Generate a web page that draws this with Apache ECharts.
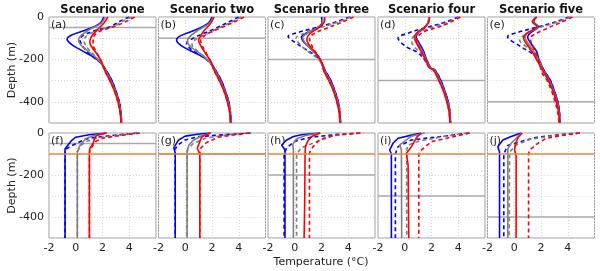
<!DOCTYPE html>
<html><head><meta charset="utf-8">
<script src="https://cdn.jsdelivr.net/npm/echarts@6/dist/echarts.min.js"></script>
<style>html,body{margin:0;padding:0;background:#fff}#c{width:600px;height:271px}</style>
</head><body><div id="c"></div>
<script>
// ---------- data ----------
const titles = ['Scenario one','Scenario two','Scenario three','Scenario four','Scenario five'];
const panelLabels = ['(a)','(b)','(c)','(d)','(e)','(f)','(g)','(h)','(i)','(j)'];
const scenarioDepths = [-50,-100,-200,-300,-400];
const referenceDepth = -100;
const xTickLabels = [-2,0,2,4];
const yTickLabels = [0,-200,-400];

// deep part of top-row profiles [temperature, depth]
const deepBlue = [[2.25,-250],[2.7,-300],[3.0,-350],[3.25,-400],[3.38,-450],[3.42,-500]];
const deepGrey = [[2.2,-250],[2.62,-300],[2.95,-350],[3.2,-400],[3.35,-450],[3.4,-500]];
const deepRed  = [[2.15,-250],[2.55,-300],[2.9,-350],[3.15,-400],[3.32,-450],[3.38,-500]];

// (a)
const a_bs = [[2.1,0],[1.8,-30],[0.8,-60],[-0.3,-85],[-0.65,-105],[-0.3,-130],[0.5,-160],[1.3,-188],[1.85,-215]].concat(deepBlue);
const a_gs = [[2.2,0],[1.9,-30],[1.0,-60],[0.35,-90],[0.2,-110],[0.5,-140],[1.2,-175],[1.8,-210]].concat(deepGrey);
const a_rs = [[2.4,0],[2.1,-30],[1.6,-60],[1.15,-95],[1.05,-120],[1.3,-150],[1.7,-185],[1.95,-215]].concat(deepRed);
const a_bd = [[4.0,0],[3.3,-20],[2.6,-45],[1.4,-65],[0.6,-85],[0.3,-105],[0.45,-130],[0.8,-160],[1.3,-188],[1.85,-215]].concat(deepBlue);
const a_gd = [[4.2,0],[3.5,-20],[2.8,-45],[1.7,-62],[0.9,-85],[0.6,-110],[0.8,-140],[1.3,-175],[1.8,-210]].concat(deepGrey);
const a_rd = [[4.4,0],[3.8,-20],[3.1,-40],[2.2,-58],[1.6,-75],[1.3,-100],[1.3,-130],[1.5,-160],[1.8,-195],[2.0,-220]].concat(deepRed);
// (b)
const b_bs = [[2.0,0],[1.7,-30],[0.6,-65],[-0.4,-90],[-0.65,-108],[-0.3,-135],[0.6,-165],[1.5,-195],[1.95,-220]].concat(deepBlue);
const b_gs = [[2.1,0],[1.8,-30],[0.9,-65],[0.3,-95],[0.15,-116],[0.5,-145],[1.3,-180],[1.85,-215]].concat(deepGrey);
const b_rs = [[2.15,0],[1.9,-30],[1.4,-65],[1.1,-95],[1.0,-110],[1.2,-140],[1.6,-180],[1.95,-215]].concat(deepRed);
const b_bd = [[4.0,0],[3.2,-25],[2.2,-55],[1.4,-77],[0.6,-100],[0.1,-124],[0.4,-150],[1.1,-180],[1.75,-210]].concat(deepBlue);
const b_gd = [[4.2,0],[3.4,-25],[2.4,-55],[1.6,-80],[0.8,-105],[0.5,-130],[0.9,-160],[1.5,-195],[1.9,-220]].concat(deepGrey);
const b_rd = [[4.4,0],[3.6,-25],[2.7,-50],[1.8,-75],[1.4,-90],[1.15,-110],[1.3,-140],[1.65,-180],[1.95,-215]].concat(deepRed);
// (c)
const c_bs = [[2.0,0],[2.05,-25],[1.7,-50],[0.9,-75],[0.5,-95],[0.7,-120],[1.2,-150],[1.75,-185],[2.05,-220]].concat(deepBlue);
const c_gs = [[2.1,0],[2.1,-25],[1.75,-50],[1.0,-75],[0.6,-97],[0.75,-120],[1.2,-150],[1.75,-185],[2.0,-220]].concat(deepGrey);
const c_rs = [[2.25,0],[2.2,-25],[1.8,-50],[1.1,-80],[0.9,-105],[1.0,-125],[1.35,-155],[1.8,-190],[2.05,-220]].concat(deepRed);
const c_bd = [[4.1,0],[3.0,-25],[1.6,-50],[0.3,-72],[-0.5,-92],[-0.1,-115],[0.7,-148],[1.6,-185],[2.0,-215]].concat(deepBlue);
const c_gd = [[4.2,0],[3.2,-25],[1.9,-50],[0.8,-75],[0.1,-100],[0.4,-130],[1.0,-163],[1.7,-195],[2.0,-220]].concat(deepGrey);
const c_rd = [[4.4,0],[3.5,-25],[2.3,-55],[1.4,-80],[1.1,-100],[1.2,-125],[1.5,-160],[1.85,-195],[2.05,-220]].concat(deepRed);
// (d)
const d_bs = [[1.8,0],[1.75,-25],[1.5,-50],[1.0,-75],[0.85,-95],[1.05,-120],[1.4,-160],[1.6,-195],[1.95,-240]].concat(deepBlue);
const d_gs = [[1.8,0],[1.75,-25],[1.45,-50],[0.95,-75],[0.78,-95],[0.95,-120],[1.3,-160],[1.55,-195],[1.9,-240]].concat(deepGrey);
const d_rs = [[1.85,0],[1.8,-25],[1.45,-50],[0.9,-75],[0.72,-98],[0.85,-120],[1.2,-160],[1.5,-195],[1.85,-240]].concat(deepRed);
const d_bd = [[4.0,0],[3.0,-25],[1.6,-50],[0.3,-75],[-0.5,-100],[0.1,-140],[0.9,-165],[1.4,-195],[1.9,-240]].concat(deepBlue);
const d_gd = [[4.1,0],[3.2,-25],[2.0,-50],[1.0,-75],[0.5,-110],[0.7,-140],[1.2,-170],[1.5,-200],[1.9,-240]].concat(deepGrey);
const d_rd = [[4.15,0],[3.4,-25],[2.4,-50],[1.6,-65],[1.0,-90],[0.9,-115],[1.15,-150],[1.45,-195],[1.85,-240]].concat(deepRed);
// (e)
const e_bs = [[1.65,0],[1.45,-22],[1.8,-45],[1.2,-75],[1.0,-95],[1.25,-125],[1.65,-160],[1.85,-200],[2.2,-250],[2.7,-300],[3.0,-350],[3.25,-400],[3.38,-450],[3.42,-500]];
const e_gs = [[1.6,0],[1.4,-22],[1.75,-45],[1.0,-75],[0.8,-95],[1.05,-125],[1.5,-165],[1.8,-200],[2.15,-250],[2.62,-300],[2.95,-350],[3.2,-400],[3.35,-450],[3.4,-500]];
const e_rs = [[1.7,0],[1.35,-22],[1.7,-45],[0.9,-78],[0.7,-100],[0.9,-125],[1.35,-165],[1.7,-205],[2.1,-250],[2.55,-300],[2.9,-350],[3.15,-400],[3.32,-450],[3.38,-500]];
const e_bd = [[4.1,0],[3.0,-25],[1.6,-50],[0.3,-72],[-0.5,-93],[0.5,-140],[1.5,-180],[1.85,-210],[2.2,-250],[2.7,-300],[3.0,-350],[3.25,-400],[3.38,-450],[3.42,-500]];
const e_gd = [[4.2,0],[3.2,-25],[1.9,-50],[0.9,-80],[0.4,-108],[1.1,-150],[1.6,-185],[1.9,-220],[2.15,-250],[2.6,-300],[2.92,-350],[3.15,-400],[3.32,-450],[3.38,-500]];
const e_rd = [[4.35,0],[3.5,-25],[2.4,-55],[1.3,-90],[1.2,-105],[1.4,-140],[1.65,-180],[1.9,-220],[2.05,-260],[2.45,-300],[2.8,-350],[3.05,-400],[3.25,-450],[3.35,-500]];
// (f)
const f_bs = [[2.3,0],[1.0,-8],[0.0,-20],[-0.3,-35],[-0.8,-75],[-0.8,-500]];
const f_gs = [[2.3,0],[1.5,-10],[0.8,-25],[0.35,-55],[0.12,-90],[0.12,-500]];
const f_rs = [[2.3,0],[1.6,-10],[1.45,-20],[1.3,-49],[1.05,-73],[1.02,-100],[1.02,-500]];
const f_bd = [[4.6,0],[3.0,-10],[1.5,-20],[0.7,-30],[0.2,-45],[-0.3,-60],[-0.8,-80],[-0.8,-500]];
const f_gd = [[4.7,0],[3.2,-10],[1.7,-22],[0.8,-40],[0.35,-60],[0.12,-90],[0.12,-500]];
const f_rd = [[4.8,0],[3.5,-10],[2.0,-25],[1.5,-40],[1.3,-57],[1.05,-80],[1.02,-100],[1.02,-500]];
// (g)
const g_bs = [[1.9,0],[0.9,-6],[0.0,-15],[-0.5,-33],[-0.85,-70],[-0.75,-95],[-0.75,-500]];
const g_gs = [[1.9,0],[1.14,-17],[0.64,-33],[0.27,-57],[0.14,-85],[0.14,-500]];
const g_rs = [[1.9,0],[1.27,-17],[1.14,-33],[0.9,-73],[1.09,-100],[1.09,-500]];
const g_bd = [[4.9,0],[3.0,-8],[1.0,-17],[0.0,-33],[-0.5,-55],[-0.8,-80],[-0.75,-100],[-0.75,-500]];
const g_gd = [[4.7,0],[3.0,-10],[1.5,-25],[0.6,-50],[0.2,-75],[0.14,-100],[0.14,-500]];
const g_rd = [[4.8,0],[3.8,-8],[2.5,-20],[1.6,-45],[1.14,-73],[1.09,-100],[1.09,-500]];
// (h)
const h_bs = [[1.9,0],[0.5,-8],[-0.1,-17],[-0.6,-33],[-0.98,-57],[-0.73,-81],[-0.73,-500]];
const h_gs = [[1.9,0],[0.8,-12],[0.1,-30],[-0.15,-55],[-0.1,-80],[-0.1,-500]];
const h_rs = [[1.9,0],[1.3,-15],[1.0,-35],[0.8,-65],[0.77,-100],[0.75,-300],[0.7,-500]];
const h_bd = [[4.9,0],[3.0,-8],[1.2,-20],[0.0,-40],[-0.6,-70],[-0.8,-100],[-0.8,-500]];
const h_gd = [[4.9,0],[3.0,-10],[1.64,-41],[0.5,-70],[0.14,-100],[0.14,-500]];
const h_rd = [[4.9,0],[3.0,-10],[1.9,-30],[1.37,-65],[1.14,-89],[1.1,-100],[1.1,-500]];
// (i)
const i_bs = [[1.24,0],[0.5,-10],[-0.5,-25],[-0.88,-49],[-1.13,-81],[-1.0,-100],[-1.0,-500]];
const i_gs = [[1.5,0],[0.5,-15],[-0.38,-57],[-0.25,-80],[-0.23,-500]];
const i_rs = [[1.24,0],[0.9,-20],[0.5,-65],[0.12,-97],[0.25,-150],[0.3,-500]];
const i_bd = [[4.8,0],[3.0,-15],[0.5,-33],[-0.5,-65],[-0.7,-100],[-0.7,-500]];
const i_gd = [[4.7,0],[3.0,-15],[1.0,-40],[0.24,-57],[0.15,-80],[0.15,-500]];
const i_rd = [[4.86,0],[3.5,-20],[2.0,-41],[1.1,-89],[1.05,-100],[1.05,-500]];
// (j)
const j_bs = [[0.52,0],[-0.23,-17],[-0.85,-33],[-1.23,-65],[-1.1,-90],[-1.1,-500]];
const j_gs = [[0.52,0],[0.27,-17],[-0.23,-49],[-0.48,-75],[-0.48,-500]];
const j_rs = [[0.6,0],[0.3,-20],[0.1,-50],[0.02,-81],[0.14,-110],[0.14,-500]];
const j_bd = [[4.9,0],[3.0,-10],[1.6,-22],[0.9,-33],[-0.5,-60],[-0.78,-100],[-0.78,-500]];
const j_gd = [[4.9,0],[3.0,-12],[1.2,-30],[0.2,-55],[-0.35,-90],[-0.38,-500]];
const j_rd = [[4.9,0],[3.5,-12],[2.4,-25],[1.77,-49],[1.14,-81],[1.07,-100],[1.07,-500]];

const panelCurves = [
  [a_bd,a_bs,a_gd,a_gs,a_rd,a_rs],[b_bd,b_bs,b_gd,b_gs,b_rd,b_rs],[c_bd,c_bs,c_gd,c_gs,c_rd,c_rs],
  [d_bd,d_bs,d_gd,d_gs,d_rd,d_rs],[e_bd,e_bs,e_gd,e_gs,e_rd,e_rs],
  [f_bd,f_bs,f_gd,f_gs,f_rd,f_rs],[g_bd,g_bs,g_gd,g_gs,g_rd,g_rs],[h_bd,h_bs,h_gd,h_gs,h_rd,h_rs],
  [i_bd,i_bs,i_gd,i_gs,i_rd,i_rs],[j_bd,j_bs,j_gd,j_gs,j_rd,j_rs]
];

// ---------- layout / style ----------
const FONT = 'DejaVu Sans';
const colLeft = [49, 158.5, 268, 378, 487.5];
const PW = 107;
const rowTop = [17, 133];
const rowH = [106, 105];
const curveColors = ['#0000ff','#0000ff','#808080','#808080','#ff0000','#ff0000'];
const curveDashed = [true,false,true,false,true,false];

const grids = [], xAxes = [], yAxes = [], series = [], graphics = [];
for (let p = 0; p < 10; p++) {
  const row = p < 5 ? 0 : 1, col = p % 5;
  grids.push({left: colLeft[col], top: rowTop[row], width: PW, height: rowH[row],
    show: true, borderColor: '#9e9e9e', borderWidth: 1, backgroundColor: 'transparent'});
  xAxes.push({type: 'value', gridIndex: p, min: -2, max: 6, interval: 2,
    axisLine: {show: false}, axisTick: {show: false},
    axisLabel: {show: row === 1, margin: 5, fontFamily: FONT, fontSize: 11, color: '#222',
      formatter: v => xTickLabels.includes(v) ? String(v) : ''},
    splitLine: {show: true, lineStyle: {color: '#d8d8d8', type: [1,2], width: 1}}});
  yAxes.push({type: 'value', gridIndex: p, min: -500, max: 0, interval: 100,
    axisLine: {show: false}, axisTick: {show: false},
    axisLabel: {show: col === 0, margin: 5, fontFamily: FONT, fontSize: 11, color: '#222',
      formatter: v => yTickLabels.includes(v) ? String(v) : ''},
    splitLine: {show: true, lineStyle: {color: '#d8d8d8', type: [1,2], width: 1}}});
  // scenario depth line
  const sd = scenarioDepths[col];
  series.push({type: 'line', xAxisIndex: p, yAxisIndex: p, symbol: 'none', silent: true,
    data: [[-2, sd],[6, sd]], lineStyle: {color: '#aaaaaa', width: 1.5}, z: 1});
  panelCurves[p].forEach((d, k) => {
    series.push({type: 'line', xAxisIndex: p, yAxisIndex: p, symbol: 'none', silent: true,
      smooth: row === 0 ? 0.35 : false, data: d,
      lineStyle: {color: curveColors[k], width: 1.6, type: curveDashed[k] ? [4,3] : 'solid'}, z: 2 + k});
  });
  if (row === 1) {
    series.push({type: 'line', xAxisIndex: p, yAxisIndex: p, symbol: 'none', silent: true,
      data: [[-2, referenceDepth],[6, referenceDepth]], lineStyle: {color: '#e8893a', width: 1.5}, z: 10});
  }
  graphics.push({type: 'text', x: colLeft[col] + 2, y: rowTop[row] + 3, z: 20,
    style: {text: panelLabels[p], font: '11px "' + FONT + '"', fill: '#222', textAlign: 'left', textVerticalAlign: 'top'}});
}
titles.forEach((t, c) => graphics.push({type: 'text', x: colLeft[c] + PW / 2, y: 10,
  style: {text: t, font: 'bold 11.5px "' + FONT + '"', fill: '#111', textAlign: 'center', textVerticalAlign: 'middle'}}));
[0,1].forEach(r => graphics.push({type: 'text', x: 12, y: rowTop[r] + rowH[r] / 2, rotation: Math.PI / 2,
  style: {text: 'Depth (m)', font: '11px "' + FONT + '"', fill: '#222', textAlign: 'center', textVerticalAlign: 'middle'}}));
graphics.push({type: 'text', x: 321, y: 262, style: {text: 'Temperature (°C)', font: '11px "' + FONT + '"',
  fill: '#222', textAlign: 'center', textVerticalAlign: 'middle'}});

const chart = echarts.init(document.getElementById('c'), null, {renderer: 'canvas'});
chart.setOption({animation: false, backgroundColor: '#fff', grid: grids, xAxis: xAxes, yAxis: yAxes,
  series: series, graphic: graphics});
</script></body></html>
